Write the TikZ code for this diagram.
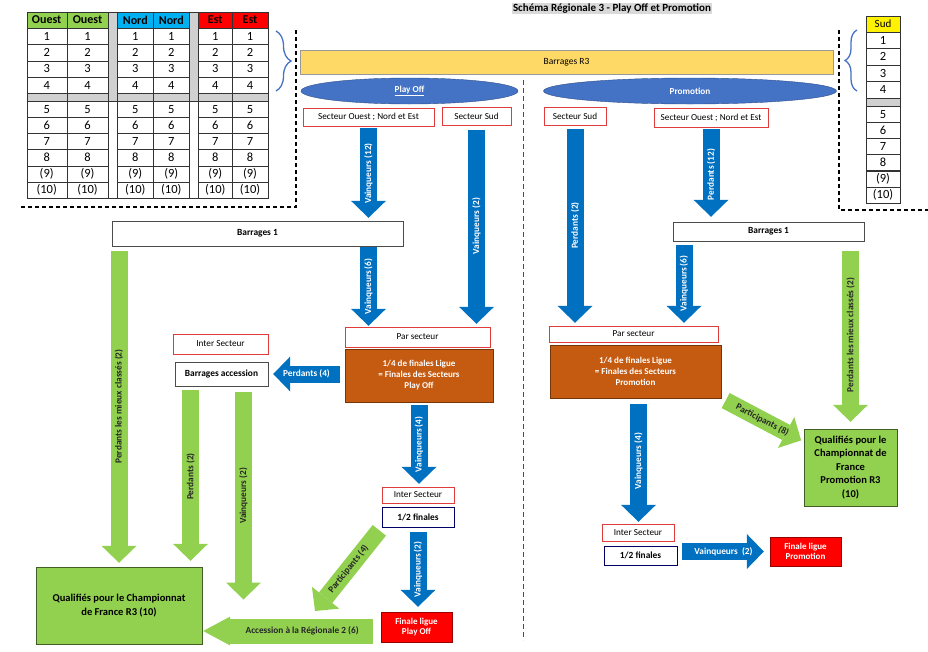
\documentclass[tikz,border=0pt]{standalone}
\usepackage{fontspec}
\setmainfont{Carlito}
\usetikzlibrary{arrows.meta, positioning, shapes.geometric, decorations.pathreplacing, backgrounds}

\definecolor{xlblue}{HTML}{0070C0}
\definecolor{xlgreen}{HTML}{92D050}
\definecolor{xlorange}{HTML}{C55A11}
\definecolor{ellblue}{HTML}{4472C4}
\definecolor{baryellow}{HTML}{FFD966}
\definecolor{hdgreen}{HTML}{92D050}
\definecolor{hdblue}{HTML}{00B0F0}
\definecolor{hdred}{HTML}{FF0000}
\definecolor{sepgray}{HTML}{D0D0D0}
\definecolor{titlegray}{HTML}{D9D9D9}
\definecolor{boxred}{HTML}{E03C3C}

\newcommand{\fsz}[2]{\fontsize{#1}{#2}\selectfont}

\begin{document}
\begin{tikzpicture}[x=1pt, y=-1pt,
    sz/.style 2 args={minimum width=#1pt, minimum height=#2pt},
    cell/.style={draw=black!80, inner sep=0pt, font=\fsz{12.5}{14}},
    redbox/.style={draw=boxred, fill=white, inner sep=0pt, font=\fsz{9.2}{10}},
    darkbox/.style={draw=black!70, fill=white, inner sep=0pt, font=\bfseries\fsz{9.4}{10}},
    phasebox/.style={draw=xlorange!60!black, fill=xlorange, text=white, align=center, inner sep=0pt, font=\bfseries\fsz{9}{11}},
    qualbox/.style={draw=xlgreen!45!black, fill=xlgreen, align=center, inner sep=0pt, font=\bfseries\fsz{10.5}{13.5}},
    finbox/.style={draw=red!60!black, fill=red, text=white, align=center, inner sep=0pt, font=\bfseries\fsz{9}{10.5}},
    pool/.style={ellipse, draw=ellblue!70!black, fill=ellblue, text=white, inner sep=0pt, sz={217}{26}, font=\bfseries\fsz{9.2}{10}},
    fat/.style={line width=17pt, -{Triangle[width=35pt, length=17pt, line width=0pt]}},
    bluefat/.style={fat, draw=xlblue},
    greenfat/.style={fat, draw=xlgreen},
    bluelab/.style={text=white, inner sep=0pt, font=\bfseries\fsz{9.3}{10}},
    greenlab/.style={text=black!85, inner sep=0pt, font=\bfseries\fsz{9.3}{10}},
    cutline/.style={dash pattern=on 4pt off 3pt, line width=1.1pt},
    sbrace/.style={draw=ellblue, line width=1.3pt, decorate, decoration={brace, amplitude=#1}}
]
    \useasboundingbox (0,0) rectangle (928,651);

    % Title
    \node[fill=titlegray, inner sep=1pt, font=\bfseries\fsz{11}{13}] (title) at (612,8.5) {Schéma Régionale 3 - Play Off et Promotion};

    % Left table (Ouest, Nord, Est)
    \foreach \cx/\cw/\hd/\hc [count=\c] in {46.7/40/Ouest/hdgreen,87.5/41.6/Ouest/hdgreen,135.3/36/Nord/hdblue,171.3/36/Nord/hdblue,215.3/34/Est/hdred,250/35.4/Est/hdred} {
        \node[cell, fill=\hc, sz={\cw}{16.6}, font=\bfseries\fsz{12}{14}] (ta-\c-0) at (\cx,20) {\hd};
        \foreach \lab/\cy [count=\r] in {1/36.4,2/52.7,3/68.9,4/85.2,5/109.1,6/125.3,7/141.5,8/157.7,{(9)}/173.9,{(10)}/190.1}
            \node[cell, sz={\cw}{16.2}] (ta-\c-\r) at (\cx,\cy) {\lab};
        \node[cell, fill=sepgray, sz={\cw}{7.8}] (ta-\c-s) at (\cx,97.2) {};
    }
    \foreach \gx in {108.3,189.3} {
        \draw[black!80, fill=sepgray] (\gx,11.7) rectangle ++(9,89.3);
        \draw[black!80] (\gx,101) rectangle ++(9,97.3);
    }

    % Right table (Sud)
    \node[cell, fill=yellow, sz={34}{16}, font=\fsz{11}{13}] (tb-0) at (883,24) {Sud};
    \foreach \lab/\cy [count=\r] in {1/40.3,2/56.8,3/73.3,4/89.8,5/114.1,6/130.3,7/146.4,8/162.6,{(9)}/178.8,{(10)}/194.9}
        \node[cell, sz={34}{16.3}] (tb-\r) at (883,\cy) {\lab};
    \node[cell, fill=sepgray, sz={34}{8}] (tb-s) at (883,102) {};

    % Braces and frames
    \draw[sbrace=15pt] (276,31) -- (276,91);
    \draw[sbrace=12pt] (857,91) -- (857,30);
    \draw[cutline] (296,30) -- (296,207) -- (20,207);
    \draw[cutline] (839,30) -- (839,210) -- (928,210);
    \draw[red, line width=1pt, dash pattern=on 5pt off 3pt] (523,80) -- (523,640);

    % Barrages R3 and pools
    \node[draw=black!40, fill=baryellow, sz={533}{24}, inner sep=0pt, font=\fsz{9.5}{11}] (barR3) at (566.5,62.5) {Barrages R3};
    \node[pool] (poEll) at (409.5,91) {\underline{Play Off}};
    \node[pool, sz={293}{26}] (prEll) at (690,91) {Promotion};

    % Sectors
    \node[redbox, sz={131}{18}] (secOEl) at (368.5,117) {Secteur Ouest ; Nord et Est};
    \node[redbox, sz={69}{18}] (secSl) at (476.5,116) {Secteur Sud};
    \node[redbox, sz={62}{18}] (secSr) at (575,116) {Secteur Sud};
    \node[redbox, sz={114}{19}] (secOEr) at (711,117.5) {Secteur Ouest ; Nord et Est};

    % Play Off side
    \node[darkbox, sz={291}{25}] (barL) at (257.5,233.5) {Barrages 1};
    \node[redbox, sz={145}{20}] (parL) at (417.5,337) {Par secteur};
    \node[phasebox, sz={148}{53}] (orangeL) at (419,375.5) {1/4 de finales Ligue\\= Finales des Secteurs\\Play Off};
    \node[redbox, sz={95}{20}] (interSL) at (220.5,344) {Inter Secteur};
    \node[darkbox, sz={93}{24}] (barAcc) at (221.5,374) {Barrages accession};
    \node[redbox, sz={72}{16}] (interL) at (418,495) {Inter Secteur};
    \node[darkbox, draw=black!60!blue, sz={72}{20}] (halfL) at (418,517) {1/2 finales};
    \node[finbox, sz={71}{30}] (finL) at (416.5,627) {Finale ligue\\Play Off};
    \node[qualbox, sz={166}{77}] (qualL) at (119,605.5) {Qualifiés pour le Championnat\\de France R3 (10)};

    % Promotion side
    \node[darkbox, sz={191}{19}] (barR) at (768.5,231.5) {Barrages 1};
    \node[redbox, sz={169}{16}] (parR) at (633.5,334) {Par secteur};
    \node[phasebox, sz={171}{53}] (orangeR) at (635.5,371.5) {1/4 de finales Ligue\\= Finales des Secteurs\\Promotion};
    \node[redbox, sz={72}{17}] (interR) at (638,532.5) {Inter Secteur};
    \node[darkbox, draw=black!60!blue, sz={73}{19}] (halfR) at (640.5,555.5) {1/2 finales};
    \node[finbox, sz={71}{29}] (finR) at (805.5,551.5) {Finale ligue\\Promotion};
    \node[qualbox, sz={93}{77}] (qualR) at (850.5,467.5) {Qualifiés pour le\\Championnat de\\France\\Promotion R3\\(10)};

    \coordinate (accTail) at (373,631);
    \coordinate (p4tip) at (315,611);

    \begin{scope}[on background layer]
        % Play Off arrows
        \draw[bluefat, shorten <=2pt, shorten >=3pt] (secOEl.south) -- (secOEl.south |- barL.north) node[midway, bluelab, rotate=90] {Vainqueurs (12)};
        \draw[bluefat, shorten <=5pt, shorten >=3pt] (secSl.south) -- (secSl.south |- parL.north) node[midway, bluelab, rotate=90] {Vainqueurs (2)};
        \draw[bluefat, shorten <=1pt, shorten >=1pt] (secOEl.south |- barL.south) -- (secOEl.south |- parL.north) node[midway, bluelab, rotate=90] {Vainqueurs (6)};
        \draw[bluefat, shorten <=5pt, shorten >=5pt] (orangeL.west |- barAcc.east) -- (barAcc.east) node[midway, bluelab] {Perdants (4)};
        \draw[bluefat, shorten <=3pt, shorten >=3pt] (orangeL.south) -- (orangeL.south |- interL.north) node[midway, bluelab, rotate=90] {Vainqueurs (4)};
        \draw[bluefat, shorten <=5pt, shorten >=5pt] (halfL.south) -- (halfL.south |- finL.north) node[midway, bluelab, rotate=90] {Vainqueurs (2)};
        \draw[greenfat, shorten <=5pt, shorten >=4pt] (qualL.north |- barL.south) -- (qualL.north) node[midway, greenlab, rotate=90] {Perdants les mieux classés (2)};
        \draw[greenfat, shorten <=4pt, shorten >=6pt] ([xshift=-31pt]barAcc.south) -- ([xshift=-31pt]barAcc.south |- qualL.north) node[midway, greenlab, rotate=90] {Perdants (2)};
        \draw[greenfat, line width=25pt, -{Triangle[width=29pt, length=27pt, line width=0pt]}, shorten >=1pt] (accTail) -- (accTail -| qualL.east) node[pos=0.415, greenlab, minimum height=26pt] (acc) {Accession à la Régionale 2 (6)};
        \draw[greenfat, shorten <=6pt, shorten >=6pt] ([xshift=22pt]barAcc.south) -- ([xshift=22pt]barAcc.south |- acc.north) node[midway, greenlab, rotate=90] {Vainqueurs (2)};
        \draw[greenfat, shorten <=4pt] (halfL.south west) -- (p4tip) node[midway, sloped, greenlab] {Participants (4)};

        % Promotion arrows
        \draw[bluefat, shorten <=4pt, shorten >=3pt] (secSr.south) -- (secSr.south |- parR.north) node[midway, bluelab, rotate=90] {Perdants (2)};
        \draw[bluefat, shorten <=2pt, shorten >=5pt] (secOEr.south) -- (secOEr.south |- barR.north) node[midway, bluelab, rotate=90] {Perdants (12)};
        \draw[bluefat, shorten <=4pt, shorten >=3pt] ([xshift=-84.5pt]barR.south) -- ([xshift=-84.5pt]barR.south |- parR.north) node[midway, bluelab, rotate=90] {Vainqueurs (6)};
        \draw[greenfat, shorten <=10pt, shorten >=7pt] (qualR.north |- barR.south) -- (qualR.north) node[midway, greenlab, rotate=90] {Perdants les mieux classés (2)};
        \draw[greenfat, shorten <=5pt, shorten >=3pt] (orangeR.south east) -- ([yshift=-13pt]qualR.north west) node[midway, sloped, greenlab] {Participants (8)};
        \draw[bluefat, shorten <=6pt, shorten >=2pt] ([xshift=3pt]orangeR.south) -- ([xshift=3pt]orangeR.south |- interR.north) node[midway, bluelab, rotate=90] {Vainqueurs (4)};
        \draw[bluefat, shorten <=5pt, shorten >=6pt] (halfR.east |- finR.west) -- (finR.west) node[midway, bluelab] {Vainqueurs~ (2)};
    \end{scope}
\end{tikzpicture}
\end{document}
